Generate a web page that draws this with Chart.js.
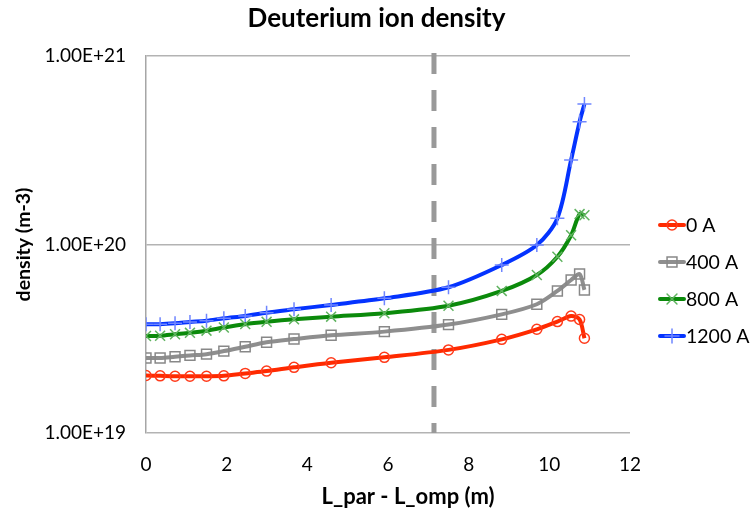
<!DOCTYPE html>
<html>
<head>
<meta charset="utf-8">
<script src="https://cdn.jsdelivr.net/npm/chart.js@4"></script>
<style>
  html, body { margin: 0; padding: 0; background: #fff; }
  #wrap { width: 753px; height: 514px; position: relative; }
</style>
</head>
<body>
<div id="wrap"><canvas id="densityChart" width="753" height="514"></canvas></div>
<script>
// L_par - L_omp positions (m)
const positions = [0, 0.35, 0.72, 1.09, 1.5, 1.93, 2.46, 2.99, 3.67, 4.59, 5.91, 7.5, 8.82, 9.69, 10.2, 10.54, 10.75, 10.87];

// ion density (m-3) per coil current
const density0A = [2.02e19, 2.01e19, 2.0e19, 2.0e19, 2.0e19, 2.01e19, 2.07e19, 2.13e19, 2.23e19, 2.36e19, 2.52e19, 2.76e19, 3.14e19, 3.55e19, 3.9e19, 4.17e19, 4.0e19, 3.18e19];
const density400A = [2.5e19, 2.5e19, 2.54e19, 2.58e19, 2.62e19, 2.72e19, 2.87e19, 3.03e19, 3.15e19, 3.3e19, 3.45e19, 3.76e19, 4.26e19, 4.82e19, 5.67e19, 6.48e19, 6.97e19, 5.74e19];
const density800A = [3.27e19, 3.28e19, 3.34e19, 3.4e19, 3.49e19, 3.63e19, 3.78e19, 3.89e19, 4.01e19, 4.14e19, 4.32e19, 4.73e19, 5.67e19, 6.89e19, 8.61e19, 1.12e20, 1.45e20, 1.43e20];
const density1200A = [3.78e19, 3.78e19, 3.82e19, 3.88e19, 3.94e19, 4.06e19, 4.18e19, 4.35e19, 4.53e19, 4.78e19, 5.18e19, 5.93e19, 7.78e19, 9.93e19, 1.38e20, 2.81e20, 4.48e20, 5.56e20];

const seriesLabels = ['0 A', '400 A', '800 A', '1200 A'];
const xTicks = [0, 2, 4, 6, 8, 10, 12];
const yTicks = [1e19, 1e20, 1e21];
const markerX = 7.14; // dashed reference line

const FONT = 'Lato, "Open Sans", sans-serif';

function toPoints(values) {
    return positions.map((x, i) => ({ x: x, y: values[i] }));
}

function makeSeries(label, values, lineColor, markColor, style, radius) {
    return {
        label: label,
        data: toPoints(values),
        borderColor: lineColor,
        borderWidth: 4,
        tension: 0.3,
        pointStyle: style,
        pointRadius: radius,
        pointBorderWidth: 1.5,
        pointBorderColor: markColor,
        pointBackgroundColor: 'rgba(255,255,255,0)',
        fill: false
    };
}

// chart title and x axis title
const titles = {
    id: 'titles',
    afterDraw(chart) {
        const { ctx, width } = chart;
        ctx.save();
        ctx.fillStyle = '#000';
        ctx.textAlign = 'center';
        ctx.textBaseline = 'middle';
        ctx.font = 'bold 26px ' + FONT;
        ctx.fillText('Deuterium ion density', width / 2, 19);
        ctx.font = 'bold 22px ' + FONT;
        ctx.fillText('L_par - L_omp (m)', 408, 497);
        ctx.restore();
    }
};

// vertical dashed line
const dashLine = {
    id: 'dashLine',
    beforeDatasetsDraw(chart) {
        const { ctx, chartArea, scales } = chart;
        const px = scales.x.getPixelForValue(markerX);
        ctx.save();
        ctx.strokeStyle = '#999999';
        ctx.lineWidth = 5;
        ctx.setLineDash([21, 16]);
        ctx.beginPath();
        ctx.moveTo(px, chartArea.top - 3);
        ctx.lineTo(px, chartArea.bottom);
        ctx.stroke();
        ctx.restore();
    }
};

// legend on the right: line + marker + label
const sideLegend = {
    id: 'sideLegend',
    afterDraw(chart) {
        const { ctx } = chart;
        const x0 = 660, y0 = 225, step = 37;
        chart.data.datasets.forEach((ds, i) => {
            const y = y0 + i * step;
            ctx.save();
            ctx.strokeStyle = ds.borderColor;
            ctx.lineWidth = 4;
            ctx.lineCap = 'round';
            ctx.beginPath();
            ctx.moveTo(x0, y);
            ctx.lineTo(x0 + 24, y);
            ctx.stroke();
            ctx.lineWidth = 1.5;
            ctx.strokeStyle = ds.pointBorderColor;
            ctx.fillStyle = 'rgba(255,255,255,0)';
            Chart.helpers.drawPoint(ctx, { pointStyle: ds.pointStyle, radius: ds.pointRadius, rotation: 0, borderWidth: 1.5 }, x0 + 12, y);
            ctx.fillStyle = '#000';
            ctx.font = '19.5px ' + FONT;
            ctx.textBaseline = 'middle';
            ctx.fillText(ds.label, x0 + 26, y + 1);
            ctx.restore();
        });
    }
};

const ctx = document.getElementById('densityChart').getContext('2d');
new Chart(ctx, {
    type: 'line',
    data: {
        datasets: [
            makeSeries(seriesLabels[0], density0A, '#ff2a00', '#ff3a1a', 'circle', 5),
            makeSeries(seriesLabels[1], density400A, '#8e8e8e', '#888888', 'rect', 7),
            makeSeries(seriesLabels[2], density800A, '#0b8a0b', '#5fb35f', 'crossRot', 7),
            makeSeries(seriesLabels[3], density1200A, '#0433ff', '#6f86ff', 'cross', 7)
        ]
    },
    options: {
        responsive: false,
        animation: false,
        devicePixelRatio: 1,
        layout: { padding: { left: 0, right: 123, top: 56, bottom: 0 } },
        plugins: {
            legend: { display: false },
            tooltip: { enabled: false },
            title: { display: false }
        },
        scales: {
            x: {
                type: 'linear',
                min: 0,
                max: 12,
                afterBuildTicks: axis => { axis.ticks = xTicks.map(v => ({ value: v })); },
                afterFit: axis => { axis.height = 81; },
                grid: { display: false, drawTicks: false },
                border: { display: false },
                ticks: { color: '#000', padding: 20, font: { family: FONT, size: 19 } }
            },
            y: {
                type: 'logarithmic',
                min: 1e19,
                max: 1e21,
                afterBuildTicks: axis => { axis.ticks = yTicks.map(v => ({ value: v })); },
                afterFit: axis => { axis.width = 146; },
                grid: { color: '#b3b3b3', lineWidth: 1.5, drawTicks: false },
                border: { color: '#a6a6a6', width: 1.5 },
                ticks: {
                    color: '#000',
                    padding: 20,
                    font: { family: FONT, size: 19 },
                    callback: v => Number(v).toExponential(2).toUpperCase()
                },
                title: {
                    display: true,
                    text: 'density (m-3)',
                    color: '#000',
                    font: { family: FONT, size: 19.5, weight: 'bold' },
                    padding: { top: 12, bottom: 0 }
                }
            }
        }
    },
    plugins: [dashLine, sideLegend, titles]
});
</script>
</body>
</html>
